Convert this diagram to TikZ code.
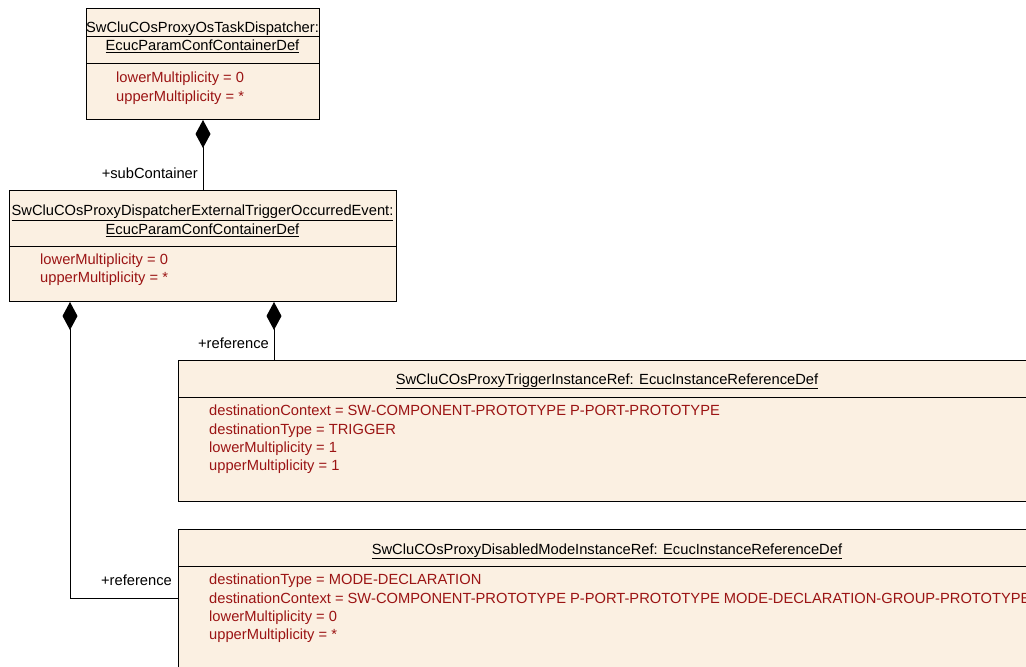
\documentclass[tikz,border=0pt]{standalone}
\usepackage{fontspec}
\setmainfont{Liberation Sans}
\usetikzlibrary{arrows.meta,positioning,calc}

\definecolor{classfill}{RGB}{251,240,226}
\definecolor{attrred}{RGB}{155,20,20}

\begin{document}
\begin{tikzpicture}[
  x=1pt, y=-1pt,
  cls/.style={draw, fill=classfill, line width=1pt, anchor=north west, inner sep=0pt},
  cname/.style={font=\fontsize{14.7}{18.3}\selectfont, inner sep=0pt, anchor=base},
  attrs/.style={font=\fontsize{14.7}{18.3}\selectfont, text=attrred, align=left, inner sep=0pt, anchor=north west},
  role/.style={font=\fontsize{14.7}{18}\selectfont, inner sep=0pt, anchor=base east},
  comp/.style={{Diamond[length=28pt,width=15pt]}-, line width=1pt},
]
\useasboundingbox (0,0) rectangle (1026,667);
\clip (0,0) rectangle (1026,667);

% === classes ===
\node[cls, minimum width=233pt, minimum height=111pt] (tdisp) at (86,8) {};
\node[cname] (tdispname) at (202.5,32) {\underline{SwCluCOsProxyOsTaskDispatcher:}};
\node[cname] (tdisptype) at (202.5,50.5) {\underline{EcucParamConfContainerDef}};
\draw[line width=1pt] ($(tdisp.north west)+(0,55)$) -- ($(tdisp.north east)+(0,55)$);
\node[attrs] (tdispattr) at (116,72) {lowerMultiplicity = 0\\upperMultiplicity = *};

\node[cls, minimum width=387pt, minimum height=111pt] (trigev) at (9,190) {};
\node[cname] (trigevname) at (202.5,215.5) {\underline{SwCluCOsProxyDispatcherExternalTriggerOccurredEvent:}};
\node[cname] (trigevtype) at (202.5,234.5) {\underline{EcucParamConfContainerDef}};
\draw[line width=1pt] ($(trigev.north west)+(0,56)$) -- ($(trigev.north east)+(0,56)$);
\node[attrs] (trigevattr) at (40,253.5) {lowerMultiplicity = 0\\upperMultiplicity = *};

\node[cls, minimum width=858pt, minimum height=141pt] (trigref) at (178,360) {};
\node[cname] (trigrefname) at (607,384) {\underline{SwCluCOsProxyTriggerInstanceRef: EcucInstanceReferenceDef}};
\draw[line width=1pt] ($(trigref.north west)+(0,37.5)$) -- ($(trigref.north east)+(0,37.5)$);
\node[attrs] (trigrefattr) at (209,405) {destinationContext = SW-COMPONENT-PROTOTYPE P-PORT-PROTOTYPE\\destinationType = TRIGGER\\lowerMultiplicity = 1\\upperMultiplicity = 1};

\node[cls, minimum width=858pt, minimum height=160pt] (modref) at (178,529) {};
\node[cname] (modrefname) at (607,554) {\underline{SwCluCOsProxyDisabledModeInstanceRef: EcucInstanceReferenceDef}};
\draw[line width=1pt] ($(modref.north west)+(0,37)$) -- ($(modref.north east)+(0,37)$);
\node[attrs] (modrefattr) at (209,574) {destinationType = MODE-DECLARATION\\destinationContext = SW-COMPONENT-PROTOTYPE P-PORT-PROTOTYPE MODE-DECLARATION-GROUP-PROTOTYPE\\lowerMultiplicity = 0\\upperMultiplicity = *};

% === compositions ===
\draw[comp] (tdisp.south) -- (trigev.north);
\node[role] (subrole) at (198,178.5) {+subContainer};

\draw[comp] ([xshift=265pt]trigev.south west) -- ([xshift=265pt]trigev.south west |- trigref.north);
\node[role] (trigrole) at (269,348.5) {+reference};

\draw[comp] ([xshift=61pt]trigev.south west) |- ([yshift=-69pt]modref.north west);
\node[role] (modrole) at (172,585.5) {+reference};

\end{tikzpicture}
\end{document}
